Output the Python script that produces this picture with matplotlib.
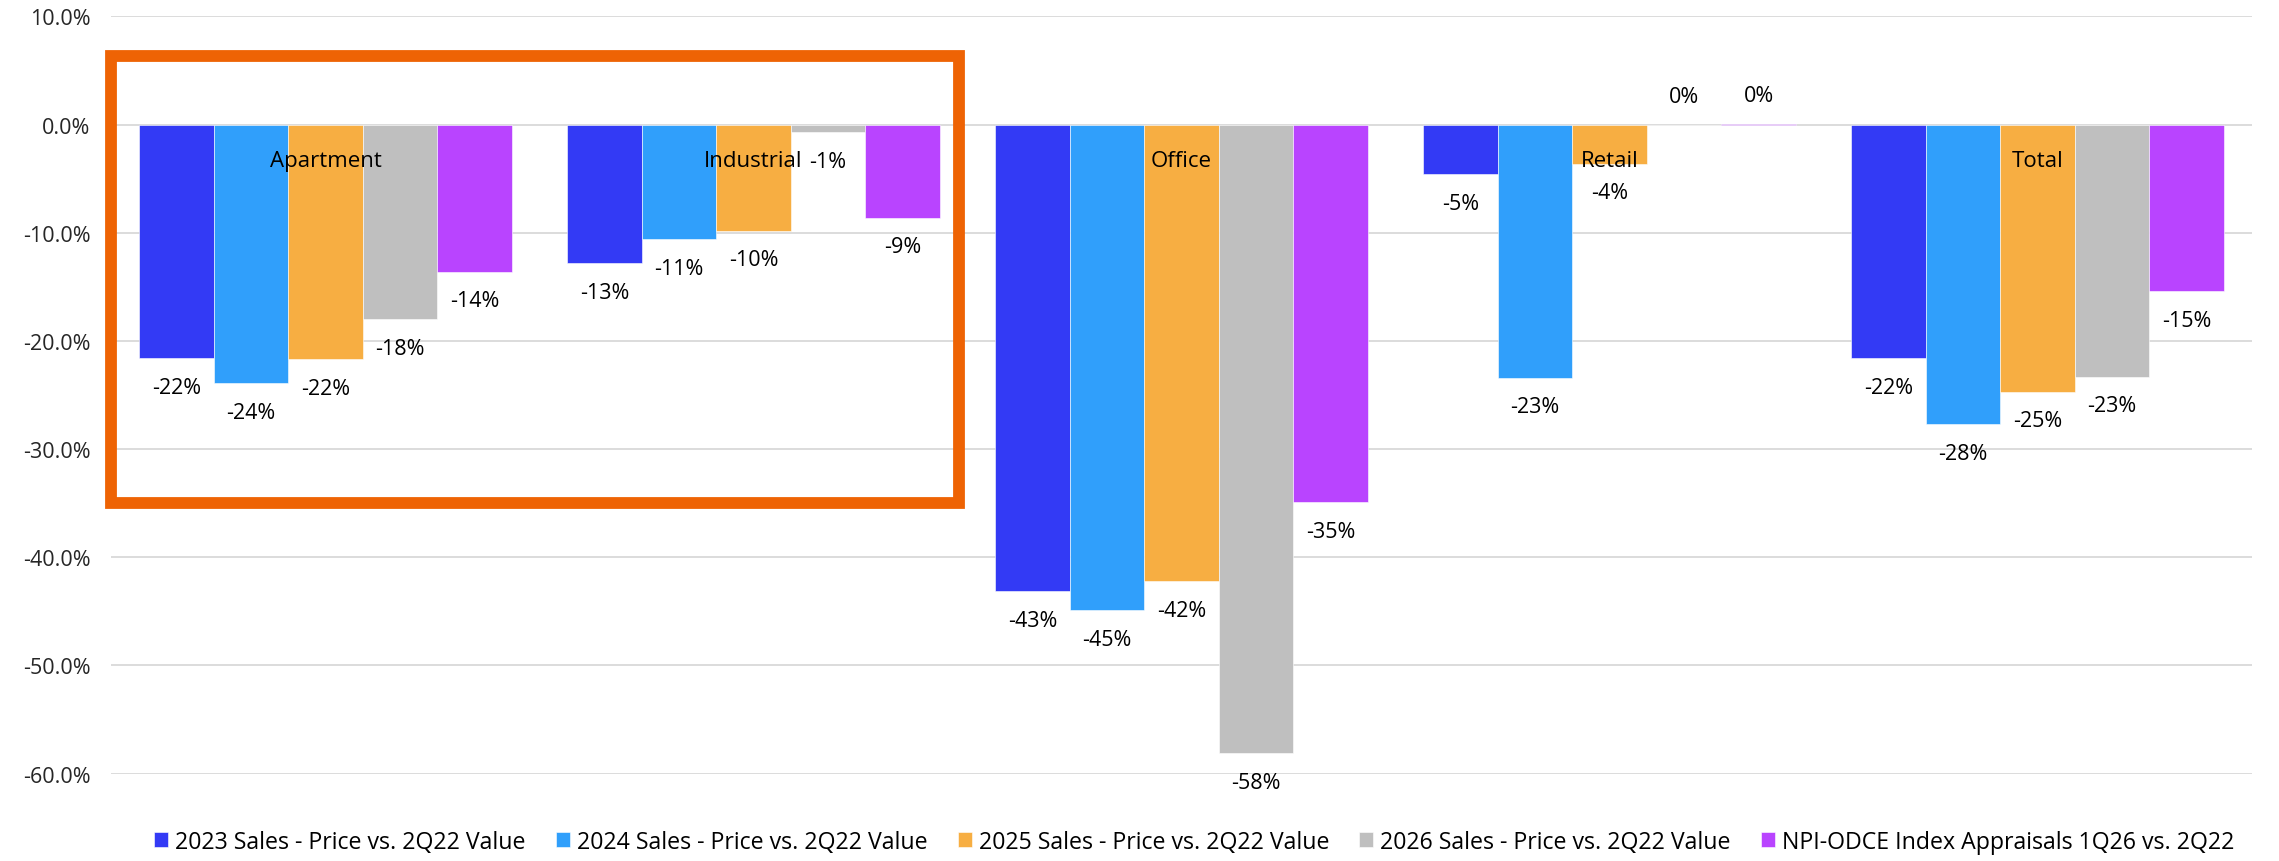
import numpy as np
import matplotlib
matplotlib.use('Agg')
import matplotlib.pyplot as plt
from matplotlib.patches import Rectangle

categories = ['Apartment', 'Industrial', 'Office', 'Retail', 'Total']
sales_2023 = [-21.6, -12.8, -43.1, -4.6, -21.6]
sales_2024 = [-23.9, -10.6, -44.9, -23.4, -27.7]
sales_2025 = [-21.7, -9.8, -42.2, -3.6, -24.7]
sales_2026 = [-18.0, -0.7, -58.1, 0.0, -23.3]
npi_odce = [-13.6, -8.6, -34.9, 0.1, -15.4]
series_names = ['2023 Sales - Price vs. 2Q22 Value',
                '2024 Sales - Price vs. 2Q22 Value',
                '2025 Sales - Price vs. 2Q22 Value',
                '2026 Sales - Price vs. 2Q22 Value',
                'NPI-ODCE Index Appraisals 1Q26 vs. 2Q22']
y_ticks = [10, 0, -10, -20, -30, -40, -50, -60]

colors = ['#333AF5', '#309FFB', '#F7AE42', '#BFBFBF', '#B944FF']

plt.rcParams['font.family'] = ['Open Sans', 'DejaVu Sans']

fig = plt.figure(figsize=(22.79, 8.62), dpi=100)
ax = fig.add_axes([0.0489, 0.1013, 0.9391, 0.8785])

series = [sales_2023, sales_2024, sales_2025, sales_2026, npi_odce]
x = np.arange(len(categories))
w = 0.174

for i, (vals, name, c) in enumerate(zip(series, series_names, colors)):
    xs = x + (i - 2) * w
    ax.bar(xs, vals, width=w, color=c, label=name, zorder=2,
           edgecolor='white', linewidth=0.4)
    # value labels just outside the bar end
    for xi, v in zip(xs, vals):
        off = 20 if v >= 0 else -21
        ax.annotate(f'{v:.0f}%', (xi, v), xytext=(0, off),
                    textcoords='offset points', ha='center', va='center',
                    fontsize=15.5, color='black', zorder=4)

# category names sit just under the zero line
for xi, cat in zip(x, categories):
    ax.annotate(cat, (xi, 0), xytext=(0, -26), textcoords='offset points',
                ha='center', va='center', fontsize=16, color='black', zorder=5)

ax.set_xlim(-0.5, len(categories) - 0.5)
ax.set_ylim(-60, 10)
ax.set_yticks(y_ticks)
ax.set_yticklabels([f'{t:.1f}%' for t in y_ticks])
ax.set_xticks([])
ax.tick_params(axis='y', length=0, pad=15, labelsize=15.5, labelcolor='#262626')
ax.set_axisbelow(True)
ax.grid(axis='y', color='#D9D9D9', linewidth=1.3)
for s in ax.spines.values():
    s.set_visible(False)

# highlight box around the first two sectors
box = Rectangle((-0.5, -34.95), 1.98, 41.3, fill=False, edgecolor='#EE6304',
                linewidth=8.5, clip_on=False, zorder=6)
ax.add_patch(box)

fig.legend(loc='center', bbox_to_anchor=(0.524, 0.022), ncol=5, frameon=False,
           fontsize=16.7, handlelength=0.6, handleheight=0.6, handletextpad=0.3,
           columnspacing=1.3)

fig.savefig('out.png', dpi=100)
